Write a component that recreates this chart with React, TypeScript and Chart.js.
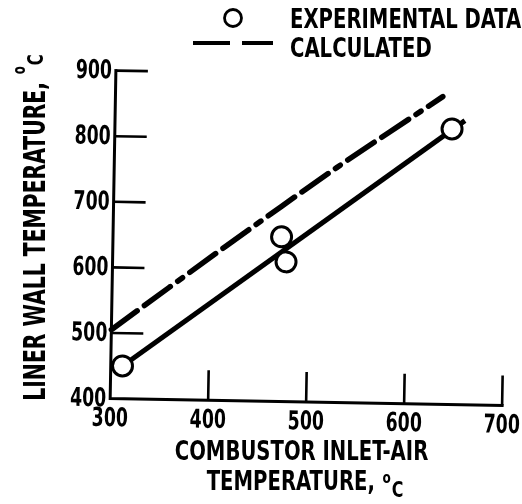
import React, { useEffect, useRef } from "react";
import { Chart, registerables } from "chart.js";

Chart.register(...registerables);

// ---- data ----
const xTickValues = [300, 400, 500, 600, 700];
const yTickValues = [400, 500, 600, 700, 800, 900];
const experimentalX = [312, 472, 477, 644];
const experimentalY = [450, 651, 613, 820];
const fitLineX = [312, 657];
const fitLineY = [450, 833];
const calculatedX = [300, 416, 527, 634];
const calculatedY = [505, 636, 758, 869];
const legendLabels = ["EXPERIMENTAL DATA", "CALCULATED"];
const xTitleLines = ["COMBUSTOR INLET-AIR", "TEMPERATURE,"];
const yTitleText = "LINER WALL TEMPERATURE,";
const unitSuper = "o";
const unitMain = "C";

const FONT = '"Liberation Sans Narrow", "DejaVu Sans Condensed", "Arial Narrow", sans-serif';
const TILT = (1.0 * Math.PI) / 180;
const INK = "#000";

// draw text horizontally compressed by sx, anchored by align at (x, y)
function squeezedText(
  ctx: CanvasRenderingContext2D,
  text: string,
  x: number,
  y: number,
  align: CanvasTextAlign,
  sx: number
) {
  ctx.save();
  ctx.translate(x, y);
  ctx.scale(sx, 1);
  ctx.textAlign = align;
  ctx.textBaseline = "alphabetic";
  ctx.fillText(text, 0, 0);
  ctx.restore();
}

function drawUnitLine(
  ctx: CanvasRenderingContext2D,
  main: string,
  mainSize: number,
  oSize: number,
  oShift: number,
  cSize: number,
  cShift: number,
  centerX: number,
  baseY: number,
  sx: number
) {
  ctx.save();
  ctx.translate(centerX, baseY);
  ctx.scale(sx, 1);
  ctx.font = `bold ${mainSize}px ${FONT}`;
  const w1 = ctx.measureText(main).width;
  ctx.font = `bold ${oSize}px ${FONT}`;
  const wo = ctx.measureText(unitSuper).width;
  ctx.font = `bold ${cSize}px ${FONT}`;
  const wc = ctx.measureText(unitMain).width;
  const gap = 9;
  const total = w1 + gap + wo + 1 + wc;
  let x = -total / 2;
  ctx.textAlign = "left";
  ctx.textBaseline = "alphabetic";
  ctx.font = `bold ${mainSize}px ${FONT}`;
  ctx.fillText(main, x, 0);
  x += w1 + gap;
  ctx.font = `bold ${oSize}px ${FONT}`;
  ctx.fillText(unitSuper, x, oShift);
  x += wo + 1;
  ctx.font = `bold ${cSize}px ${FONT}`;
  ctx.fillText(unitMain, x, cShift);
  ctx.restore();
}

const paperPlugin = {
  id: "paper",
  beforeDatasetsDraw(chart: any) {
    const { ctx, chartArea: a, scales } = chart;
    const xs = scales.x;
    const ys = scales.y;
    const cx = (a.left + a.right) / 2;
    const cy = (a.top + a.bottom) / 2;
    ctx.save();
    ctx.translate(cx, cy);
    ctx.rotate(TILT);
    ctx.translate(-cx, -cy);

    const left = xs.getPixelForValue(xTickValues[0]);
    const right = xs.getPixelForValue(xTickValues[xTickValues.length - 1]);
    const bottom = ys.getPixelForValue(yTickValues[0]);
    const top = ys.getPixelForValue(yTickValues[yTickValues.length - 1]);

    ctx.strokeStyle = INK;
    ctx.lineWidth = 3;
    ctx.lineCap = "square";
    ctx.beginPath();
    ctx.moveTo(left, top);
    ctx.lineTo(left, bottom);
    ctx.lineTo(right, bottom);
    ctx.stroke();

    ctx.lineWidth = 2.6;
    ctx.lineCap = "butt";
    ctx.beginPath();
    yTickValues.slice(1).forEach((v) => {
      const py = ys.getPixelForValue(v);
      ctx.moveTo(left, py);
      ctx.lineTo(left + 32, py);
    });
    xTickValues.slice(1).forEach((v) => {
      const px = xs.getPixelForValue(v);
      ctx.moveTo(px, bottom);
      ctx.lineTo(px, bottom - 30);
    });
    ctx.stroke();

    ctx.fillStyle = INK;
    ctx.font = `bold 26px ${FONT}`;
    yTickValues.forEach((v) => {
      const py = ys.getPixelForValue(v);
      squeezedText(ctx, String(v), left - 4, py + 8, "right", 0.74);
    });
    xTickValues.forEach((v) => {
      const px = xs.getPixelForValue(v);
      squeezedText(ctx, String(v), px, bottom + 27.5, "center", 0.74);
    });
  },
  afterDatasetsDraw(chart: any) {
    chart.ctx.restore();
  },
  afterDraw(chart: any) {
    const ctx: CanvasRenderingContext2D = chart.ctx;
    ctx.save();
    ctx.fillStyle = INK;
    ctx.strokeStyle = INK;

    // x-axis title
    ctx.font = `bold 26px ${FONT}`;
    squeezedText(ctx, xTitleLines[0], 301.5, 460, "center", 0.84);
    drawUnitLine(ctx, xTitleLines[1], 26, 16, -7, 21, 7, 305, 490, 0.84);

    // y-axis title
    ctx.save();
    ctx.translate(34, 227.5);
    ctx.rotate(-Math.PI / 2);
    ctx.scale(1, 1.15);
    drawUnitLine(ctx, yTitleText, 26, 15, -17, 19, -1.5, 0, 9.5, 0.87);
    ctx.restore();

    // legend
    ctx.lineWidth = 2.8;
    ctx.beginPath();
    ctx.arc(233, 18, 8.5, 0, Math.PI * 2);
    ctx.stroke();
    ctx.lineWidth = 4;
    ctx.beginPath();
    ctx.moveTo(193, 43);
    ctx.lineTo(230, 43);
    ctx.moveTo(242, 43);
    ctx.lineTo(273, 43);
    ctx.stroke();
    ctx.font = `bold 26px ${FONT}`;
    squeezedText(ctx, legendLabels[0], 290, 28, "left", 0.84);
    squeezedText(ctx, legendLabels[1], 290, 57, "left", 0.84);
    ctx.restore();
  },
};

export default function App() {
  const canvasRef = useRef<HTMLCanvasElement | null>(null);

  useEffect(() => {
    const canvas = canvasRef.current;
    if (!canvas) return;
    const chart = new Chart(canvas, {
      type: "scatter",
      data: {
        datasets: [
          {
            label: legendLabels[0],
            data: experimentalX.map((x, i) => ({ x, y: experimentalY[i] })),
            showLine: false,
            pointRadius: 10,
            pointBorderWidth: 3,
            pointBackgroundColor: "#fff",
            pointBorderColor: INK,
            clip: false,
          },
          {
            label: "fit",
            data: fitLineX.map((x, i) => ({ x, y: fitLineY[i] })),
            showLine: true,
            pointRadius: 0,
            borderColor: INK,
            borderWidth: 5,
            clip: false,
          },
          {
            label: legendLabels[1],
            data: calculatedX.map((x, i) => ({ x, y: calculatedY[i] })),
            showLine: true,
            pointRadius: 0,
            borderColor: INK,
            borderWidth: 5.5,
            borderDash: [32, 9, 32, 9, 6, 9],
            borderCapStyle: "round",
            tension: 0.3,
            clip: false,
          },
        ],
      },
      options: {
        animation: false,
        responsive: false,
        devicePixelRatio: 1,
        layout: { padding: { left: 113, right: 17, top: 74, bottom: 102 } },
        plugins: {
          legend: { display: false },
          tooltip: { enabled: false },
        },
        scales: {
          x: { type: "linear", min: 300, max: 700, display: false },
          y: { type: "linear", min: 400, max: 900, display: false },
        },
      },
      plugins: [paperPlugin],
    });
    return () => chart.destroy();
  }, []);

  return (
    <div style={{ position: "absolute", left: 0, top: 0, width: 522, height: 504, background: "#fff" }}>
      <canvas ref={canvasRef} width={522} height={504} style={{ display: "block" }} />
    </div>
  );
}
